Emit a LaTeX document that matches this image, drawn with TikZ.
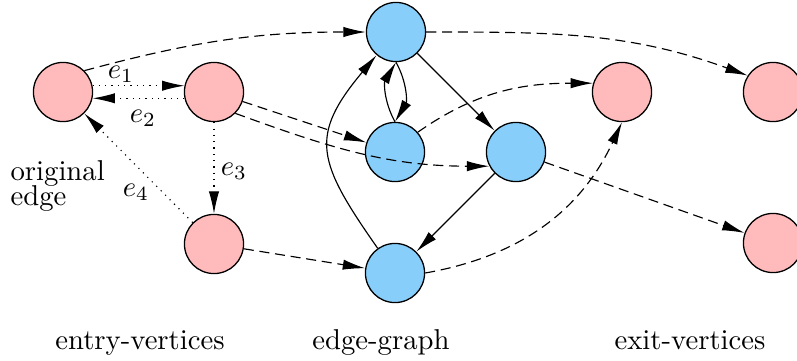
\documentclass[tikz,border=0pt]{standalone}
\usetikzlibrary{arrows.meta}
\definecolor{pinkv}{RGB}{255,187,187}
\definecolor{bluev}{RGB}{135,206,250}
\begin{document}
\begin{tikzpicture}[x=0.3484pt,y=0.3484pt,
  vtx/.style={circle,draw,line width=0.45pt,minimum size=20.6pt,inner sep=0pt},
  pinkvtx/.style={vtx,fill=pinkv},
  bluevtx/.style={vtx,fill=bluev},
  arr/.style={-{Latex[length=7.8pt,width=3.6pt]},line width=0.4pt},
  dsh/.style={arr,dash pattern=on 3.5pt off 2pt},
  dotedge/.style={arr,dash pattern=on 0.4pt off 1.8pt},
  lab/.style={inner sep=0pt}]
\useasboundingbox (0,0) rectangle (797,360);
% vertices
\node[pinkvtx] (A) at (63,268) {};
\node[pinkvtx] (B) at (214,268) {};
\node[pinkvtx] (C) at (214,116) {};
\node[bluevtx] (T) at (396,328) {};
\node[bluevtx] (M) at (395,208) {};
\node[bluevtx] (R) at (516,208) {};
\node[bluevtx] (Bt) at (395,87) {};
\node[pinkvtx] (P1) at (622,268) {};
\node[pinkvtx] (P2) at (773,268) {};
\node[pinkvtx] (P3) at (773,117) {};
% labels
\node[lab,anchor=base west] (orig) at (10,180) {original};
\node[lab,anchor=base west] (edgetxt) at (10,155) {edge};
\node[lab] (e1) at (121,286) {$e_1$};
\node[lab] (e2) at (143,242) {$e_2$};
\node[lab] (e3) at (234,189) {$e_3$};
\node[lab] (e4) at (136,168) {$e_4$};
\node[lab,anchor=base] (entry) at (140,11) {entry-vertices};
\node[lab,anchor=base] (egraph) at (381,11) {edge-graph};
\node[lab,anchor=base] (exit) at (690,11) {exit-vertices};
% original edges
\draw[dotedge] (A.12) -- (B.168);
\draw[dotedge] (B.192) -- (A.-12);
\draw[dotedge] (B) -- (C);
\draw[dotedge] (C) -- (A);
% entry connections
\draw[dsh] (A.45) to[out=15,in=180] (T.west);
\draw[dsh] (B) -- (M);
\draw[dsh] (B.-45) to[out=-20,in=180] (R.-152);
\draw[dsh] (C) -- (Bt);
% edge graph
\draw[arr] (Bt.125) to[out=125,in=-130,looseness=1.4] (T.-130);
\draw[arr] (M.north) to[bend left] (T.south);
\draw[arr] (T.south) to[bend left] (M.north);
\draw[arr] (T) -- (R);
\draw[arr] (R) -- (Bt);
% exit connections
\draw[dsh] (T.east) to[out=0,in=160] (P2.147);
\draw[dsh] (M.41) to[out=35,in=180] (P1.163);
\draw[dsh] (Bt.east) to[out=10,in=-115] (P1.south);
\draw[dsh] (R) -- (P3);
\end{tikzpicture}
\end{document}
